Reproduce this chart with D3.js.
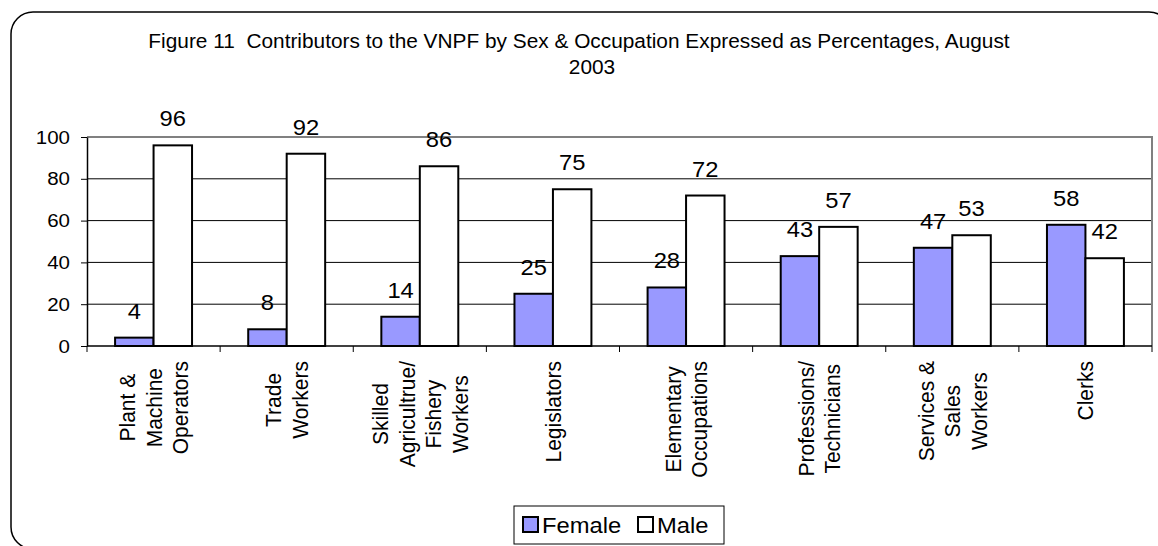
<!DOCTYPE html>
<html>
<head>
<meta charset="utf-8">
<script src="https://cdn.jsdelivr.net/npm/d3@7"></script>
<style>
  html, body { margin: 0; padding: 0; background: #fff; }
  svg { display: block; font-family: "Liberation Sans", Arial, sans-serif; }
</style>
</head>
<body>
<svg id="chart" width="1158" height="546"></svg>
<script>
const categories = [
    ["Plant &", "Machine", "Operators"],
    ["Trade", "Workers"],
    ["Skilled", "Agricultrue/", "Fishery", "Workers"],
    ["Legislators"],
    ["Elementary", "Occupations"],
    ["Professions/", "Technicians"],
    ["Services &", "Sales", "Workers"],
    ["Clerks"]
];
const female = [4, 8, 14, 25, 28, 43, 47, 58];
const male = [96, 92, 86, 75, 72, 57, 53, 42];
const seriesNames = ["Female", "Male"];
const seriesColors = ["#9999FF", "#FFFFFF"];
const yTicks = [0, 20, 40, 60, 80, 100];
const titleLines = ["Figure 11  Contributors to the VNPF by Sex & Occupation Expressed as Percentages, August", "2003"];

const svg = d3.select("#chart");

// the original picture has slightly wide lettering
const sx = 1.08;
const at = (px, py, extra = "") => `translate(${px},${py}) scale(${sx},1)${extra}`;

// plot area
const plotLeft = 87, plotRight = 1152, plotTop = 137, plotBottom = 346;

const x = d3.scaleBand().domain(d3.range(categories.length)).range([plotLeft, plotRight]).padding(0);
const xs = d3.scaleBand().domain(seriesNames).range([0, x.bandwidth()]).paddingInner(0).paddingOuter(0.73);
const y = d3.scaleLinear().domain([0, 100]).range([plotBottom, plotTop]);

// outer rounded frame
svg.append("rect")
    .attr("x", 11).attr("y", 12)
    .attr("width", 1160).attr("height", 537)
    .attr("rx", 22).attr("ry", 22)
    .attr("fill", "none").attr("stroke", "#000").attr("stroke-width", 1.5);

// title
svg.append("text")
    .attr("transform", at(579, 48))
    .attr("text-anchor", "middle")
    .attr("font-size", 19.3)
    .style("white-space", "pre")
    .text(titleLines[0]);
svg.append("text")
    .attr("transform", at(592, 74))
    .attr("text-anchor", "middle")
    .attr("font-size", 19.3)
    .text(titleLines[1]);

// gridlines
svg.append("g")
    .selectAll("line")
    .data(yTicks.filter(d => d > 0 && d < 100))
    .join("line")
    .attr("x1", plotLeft).attr("x2", plotRight)
    .attr("y1", d => y(d)).attr("y2", d => y(d))
    .attr("stroke", "#000").attr("stroke-width", 1);

// plot area border (gray top & right)
svg.append("path")
    .attr("d", `M${plotLeft},${plotTop}H${plotRight}V${plotBottom}`)
    .attr("fill", "none").attr("stroke", "#808080").attr("stroke-width", 2);

// bars
const groups = svg.append("g")
    .selectAll("g")
    .data(categories.map((c, i) => ({ i, vals: [female[i], male[i]] })))
    .join("g")
    .attr("transform", d => `translate(${x(d.i)},0)`);

groups.selectAll("rect")
    .data(d => d.vals.map((v, k) => ({ v, k })))
    .join("rect")
    .attr("x", d => xs(seriesNames[d.k]))
    .attr("y", d => y(d.v))
    .attr("width", xs.bandwidth())
    .attr("height", d => y(0) - y(d.v))
    .attr("fill", d => seriesColors[d.k])
    .attr("stroke", "#000").attr("stroke-width", 2);

groups.selectAll("text")
    .data(d => d.vals.map((v, k) => ({ v, k })))
    .join("text")
    .attr("transform", d => at(xs(seriesNames[d.k]) + xs.bandwidth() / 2, y(d.v) - 19))
    .attr("text-anchor", "middle")
    .attr("font-size", 22)
    .text(d => d.v);

// y axis
const yAxis = svg.append("g")
    .attr("transform", `translate(${plotLeft},0)`)
    .call(d3.axisLeft(y).tickValues(yTicks).tickSize(6).tickPadding(11).tickSizeOuter(0));
yAxis.select(".domain").attr("stroke", "#000").attr("stroke-width", 1.5);
yAxis.selectAll(".tick line").attr("stroke", "#000");
yAxis.selectAll(".tick text")
    .attr("font-size", 19)
    .attr("font-family", "Liberation Sans, Arial, sans-serif")
    .attr("fill", "#000")
    .attr("transform", function () {
        const tx = +d3.select(this).attr("x");
        return `translate(${tx},0) scale(${sx},1) translate(${-tx},0)`;
    });

// x axis baseline and ticks
svg.append("line")
    .attr("x1", plotLeft).attr("x2", plotRight)
    .attr("y1", plotBottom).attr("y2", plotBottom)
    .attr("stroke", "#000").attr("stroke-width", 1.5);
svg.append("g")
    .selectAll("line")
    .data(d3.range(categories.length + 1))
    .join("line")
    .attr("x1", i => plotLeft + i * x.step()).attr("x2", i => plotLeft + i * x.step())
    .attr("y1", plotBottom).attr("y2", plotBottom + 6)
    .attr("stroke", "#000");

// category labels (rotated, multi-line)
const lineH = 26.5;
const labelTop = 361;
categories.forEach((lines, i) => {
    const cx = x(i) + x.bandwidth() / 2;
    const g = svg.append("g");
    const texts = lines.map(ln => g.append("text")
        .attr("text-anchor", "middle")
        .attr("font-size", 21)
        .attr("dy", "0.35em")
        .text(ln));
    const maxLen = d3.max(texts, t => t.node().getComputedTextLength());
    const cy = labelTop + maxLen / 2;
    texts.forEach((t, j) => {
        const lx = cx + (j - (lines.length - 1) / 2) * lineH;
        t.attr("transform", at(lx, cy, " rotate(-90)"));
    });
});

// legend
const lg = svg.append("g").attr("transform", "translate(514,506)");
lg.append("rect")
    .attr("width", 210).attr("height", 38)
    .attr("fill", "#fff").attr("stroke", "#000").attr("stroke-width", 1);
const legendX = [9, 124];
seriesNames.forEach((name, k) => {
    lg.append("rect")
        .attr("x", legendX[k]).attr("y", 11)
        .attr("width", 15).attr("height", 15)
        .attr("fill", seriesColors[k]).attr("stroke", "#000").attr("stroke-width", 2);
    lg.append("text")
        .attr("transform", at(legendX[k] + 19, 27))
        .attr("font-size", 22)
        .text(name);
});
</script>
</body>
</html>
